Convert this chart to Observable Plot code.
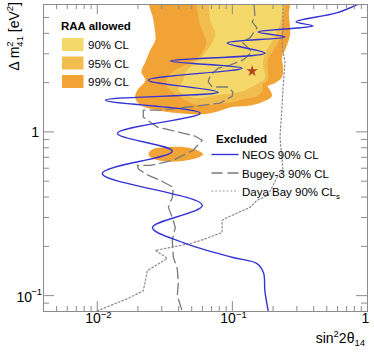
<!DOCTYPE html>
<html>
<head>
<meta charset="utf-8">
<script src="https://cdn.jsdelivr.net/npm/d3@7"></script>
<script src="https://cdn.jsdelivr.net/npm/@observablehq/plot@0.6"></script>
<style>
html,body{margin:0;padding:0;background:#fff;}
#chart{width:374px;height:354px;}
</style>
</head>
<body>
<div id="chart"></div>
<script>
// ---- Data ----
// RAA allowed region, 99% CL (main contour)
const raa99X = [0.0247, 0.0260, 0.0269, 0.0247, 0.0227, 0.0212, 0.0227, 0.0198, 0.0191, 0.0208, 0.0269, 0.0411, 0.0578, 0.0745, 0.0995, 0.128, 0.166, 0.196, 0.190, 0.183, 0.207, 0.233, 0.237, 0.233, 0.249, 0.267, 0.262, 0.258];
const raa99Y = [6.6, 4.83, 3.64, 3.17, 2.67, 2.32, 2.07, 1.80, 1.61, 1.46, 1.36, 1.30, 1.28, 1.32, 1.42, 1.44, 1.52, 1.65, 1.80, 1.90, 1.99, 2.16, 2.49, 2.87, 3.26, 3.91, 5.18, 6.6];
// RAA allowed, 99% CL (small island)
const raa99bX = [0.0239, 0.0256, 0.0319, 0.0448, 0.0550, 0.0608, 0.0540, 0.0411, 0.0308, 0.0256];
const raa99bY = [0.730, 0.783, 0.806, 0.806, 0.773, 0.730, 0.690, 0.662, 0.662, 0.690];
// RAA allowed, 95% CL
const raa95X = [0.0560, 0.0560, 0.0587, 0.0640, 0.0578, 0.0448, 0.0359, 0.0324, 0.0336, 0.0411, 0.0550, 0.0914, 0.124, 0.152, 0.168, 0.168, 0.183, 0.183, 0.203, 0.225, 0.237, 0.233];
const raa95Y = [6.6, 5.04, 4.32, 3.49, 2.95, 2.56, 2.32, 2.07, 1.85, 1.63, 1.46, 1.50, 1.59, 1.65, 1.80, 1.96, 2.07, 2.75, 3.17, 3.75, 4.70, 6.6];
// RAA allowed, 90% CL
const raa90X = [0.0708, 0.0685, 0.0745, 0.0708, 0.0608, 0.0531, 0.0463, 0.0432, 0.0398, 0.0448, 0.0550, 0.0785, 0.114, 0.152, 0.174, 0.168, 0.180, 0.200, 0.221, 0.225];
const raa90Y = [6.6, 4.83, 4.02, 3.49, 2.95, 2.64, 2.39, 2.07, 1.80, 1.68, 1.61, 1.68, 1.75, 1.96, 2.13, 2.64, 3.17, 3.64, 4.32, 6.6];
// RAA best fit
const bestX = [0.140];
const bestY = [2.35];

// NEOS 90% CL exclusion contour
const neosX = [0.84, 0.591, 0.296, 0.395, 0.155, 0.245, 0.0914, 0.174, 0.0348, 0.118, 0.0239, 0.0786, 0.0115, 0.0578, 0.0141, 0.0359, 0.0109, 0.0598, 0.0256, 0.0432, 0.101, 0.152, 0.170, 0.174, 0.184];
const neosY = [6.0, 5.33, 4.70, 4.44, 4.08, 3.80, 3.49, 3.03, 2.71, 2.45, 2.07, 1.75, 1.56, 1.30, 0.98, 0.762, 0.558, 0.356, 0.261, 0.211, 0.171, 0.157, 0.138, 0.107, 0.081];
// Bugey-3 90% CL
const bugeyX = [0.1445, 0.147, 0.140, 0.152, 0.135, 0.118, 0.140, 0.120, 0.0961, 0.0785, 0.0685, 0.0662, 0.0709, 0.0929, 0.101, 0.0995, 0.0812, 0.0550, 0.0303, 0.0219, 0.0219, 0.0279, 0.0378, 0.0531, 0.0598, 0.0513, 0.0366, 0.0247, 0.0198, 0.0202, 0.0239, 0.0293, 0.0366, 0.0359, 0.0336, 0.0359, 0.0378, 0.0359, 0.0366, 0.0391, 0.0398, 0.0391, 0.0426];
const bugeyY = [6.0, 5.04, 4.70, 4.32, 3.75, 3.54, 3.08, 2.75, 2.56, 2.45, 2.22, 2.02, 1.88, 1.88, 1.75, 1.65, 1.50, 1.44, 1.36, 1.36, 1.23, 1.07, 1.01, 0.941, 0.889, 0.773, 0.671, 0.625, 0.625, 0.591, 0.543, 0.506, 0.458, 0.398, 0.346, 0.300, 0.261, 0.217, 0.171, 0.146, 0.120, 0.100, 0.080];
// Daya Bay 90% CLs
const dayaX = [0.237, 0.237, 0.233, 0.245, 0.237, 0.233, 0.225, 0.237, 0.214, 0.183, 0.152, 0.135, 0.0914, 0.0839, 0.0839, 0.0578, 0.0488, 0.0269, 0.0330, 0.0235, 0.0219, 0.0167, 0.0100];
const dayaY = [6.0, 4.50, 3.40, 2.67, 1.85, 1.42, 0.928, 0.582, 0.527, 0.409, 0.382, 0.346, 0.300, 0.288, 0.243, 0.217, 0.208, 0.189, 0.169, 0.142, 0.107, 0.0958, 0.0807];

// Axis ticks
const xMajorTicks = [0.01, 0.1];
const xMinorTicks = [0.005,0.006,0.007,0.008,0.009,0.02,0.03,0.04,0.05,0.06,0.07,0.08,0.09,0.2,0.3,0.4,0.5,0.6,0.7,0.8,0.9];
const yMajorTicks = [0.1, 1];
const yMinorTicks = [0.09,0.2,0.3,0.4,0.5,0.6,0.7,0.8,0.9,2,3,4,5];
const xPowTicks = [0.01, 0.1];
const xPowLabels = ["\u22122", "\u22121"];
const xPlainTicks = [1];
const xPlainLabels = ["1"];
const yPowTicks = [0.1];
const yPowLabels = ["\u22121"];
const yPlainTicks = [1];
const yPlainLabels = ["1"];

// Legend labels
const raaTitle = "RAA allowed";
const raaLabels = ["90% CL", "95% CL", "99% CL"];
const exclTitle = "Excluded";
const exclLabels = ["NEOS 90% CL", "Bugey-3 90% CL", "Daya Bay 90% CL"];

// ---- Styling ----
const FONT = "'Liberation Sans', Arial, Helvetica, sans-serif";
const C90 = "#f4d96a", C95 = "#f2bd4f", C99 = "#f1a336";
const NEOS = "#3434d4", BUGEY = "#7a7a7a", DAYA = "#8a8a8a";
const AX = "#8c8c8c";
const W = 374, H = 354, mL = 43, mR = 7, mT = 4, mB = 43;
const fW = W - mL - mR, fH = H - mT - mB;

const pts = (xs, ys) => xs.map((x, i) => ({x, y: ys[i]}));

const svg = Plot.plot({
  width: W, height: H,
  marginLeft: mL, marginRight: mR, marginTop: mT, marginBottom: mB,
  x: {type: "log", domain: [0.004, 1], axis: null},
  y: {type: "log", domain: [0.08, 6], axis: null},
  style: {fontFamily: FONT, fontSize: "14px", background: "#fff", overflow: "visible"},
  marks: [
    Plot.line(pts(raa99X, raa99Y), {x: "x", y: "y", fill: C99, stroke: "none", curve: "catmull-rom-closed", clip: true}),
    Plot.line(pts(raa99bX, raa99bY), {x: "x", y: "y", fill: C99, stroke: "none", curve: "catmull-rom-closed", clip: true}),
    Plot.line(pts(raa95X, raa95Y), {x: "x", y: "y", fill: C95, stroke: "none", curve: "catmull-rom-closed", clip: true}),
    Plot.line(pts(raa90X, raa90Y), {x: "x", y: "y", fill: C90, stroke: "none", curve: "catmull-rom-closed", clip: true}),
    Plot.dot(pts(bestX, bestY), {x: "x", y: "y", symbol: "star", fill: "#b4441c", stroke: "none", r: 3.6}),
    Plot.line(pts(dayaX, dayaY), {x: "x", y: "y", stroke: DAYA, strokeWidth: 1.2, strokeDasharray: "1.6,2.2", clip: true}),
    Plot.line(pts(bugeyX, bugeyY), {x: "x", y: "y", stroke: BUGEY, strokeWidth: 1.3, strokeDasharray: "11,5", clip: true}),
    Plot.line(pts(neosX, neosY), {x: "x", y: "y", stroke: NEOS, strokeWidth: 1.4, curve: "catmull-rom", clip: true}),
    // ticks (ROOT style, inside the frame)
    Plot.tickX(xMinorTicks, {x: d => d, insetTop: fH - 5, stroke: AX}),
    Plot.tickX(xMinorTicks, {x: d => d, insetBottom: fH - 5, stroke: AX}),
    Plot.tickX(xMajorTicks, {x: d => d, insetTop: fH - 10, stroke: AX}),
    Plot.tickX(xMajorTicks, {x: d => d, insetBottom: fH - 10, stroke: AX}),
    Plot.tickY(yMinorTicks, {y: d => d, insetRight: fW - 6, stroke: AX}),
    Plot.tickY(yMinorTicks, {y: d => d, insetLeft: fW - 6, stroke: AX}),
    Plot.tickY(yMajorTicks, {y: d => d, insetRight: fW - 11, stroke: AX}),
    Plot.tickY(yMajorTicks, {y: d => d, insetLeft: fW - 11, stroke: AX}),
    Plot.frame({stroke: AX}),
    // tick labels
    Plot.text(xPowTicks, {x: d => d, text: () => "10", frameAnchor: "bottom", textAnchor: "end", dx: 3.5, dy: 11, fontSize: 14, fill: "#000"}),
    Plot.text(xPowTicks, {x: d => d, text: (d, i) => xPowLabels[i], frameAnchor: "bottom", textAnchor: "start", dx: 3.5, dy: 6.5, fontSize: 9.5, fill: "#000"}),
    Plot.text(xPlainTicks, {x: d => d, text: (d, i) => xPlainLabels[i], frameAnchor: "bottom", textAnchor: "middle", dx: -2, dy: 11, fontSize: 14, fill: "#000"}),
    Plot.text(yPowTicks, {y: d => d, text: () => "10", frameAnchor: "left", textAnchor: "end", dx: -11.5, dy: 2, fontSize: 14, fill: "#000"}),
    Plot.text(yPowTicks, {y: d => d, text: (d, i) => yPowLabels[i], frameAnchor: "left", textAnchor: "end", dx: -1.5, dy: -4, fontSize: 9.5, fill: "#000"}),
    Plot.text(yPlainTicks, {y: d => d, text: (d, i) => yPlainLabels[i], frameAnchor: "left", textAnchor: "end", dx: -4.5, dy: 0.5, fontSize: 14, fill: "#000"})
  ]
});

// ---- Titles and legends ----
const g = d3.select(svg).append("g").attr("font-family", FONT).attr("fill", "#000").attr("text-anchor", "start");

// x title: sin^2 2θ_14
const xt = g.append("text").attr("x", 365).attr("y", 343).attr("text-anchor", "end").attr("font-size", 14);
xt.append("tspan").text("sin");
xt.append("tspan").attr("font-size", 9.5).attr("dy", -6).text("2");
xt.append("tspan").attr("dy", 6).text("2\u03b8");
xt.append("tspan").attr("font-size", 9.5).attr("dy", 3).text("14");

// y title: Δm^2_41 [eV^2]
const yt = g.append("text").attr("transform", "translate(19,2) rotate(-90)").attr("text-anchor", "end").attr("font-size", 14);
yt.append("tspan").text("\u0394 m");
yt.append("tspan").attr("font-size", 9.5).attr("dy", -6).text("2");
yt.append("tspan").attr("font-size", 9.5).attr("dx", -5.3).attr("dy", 9.5).text("41");
yt.append("tspan").attr("dy", -3.5).text(" [eV");
yt.append("tspan").attr("font-size", 9.5).attr("dy", -6).text("2");
yt.append("tspan").attr("dy", 6).text("]");

// RAA legend
g.append("text").attr("x", 61).attr("y", 30).attr("font-size", 11.5).attr("font-weight", "bold").attr("text-anchor", "start").text(raaTitle);
const raaCols = [C90, C95, C99];
const raaRows = [38, 56.5, 75];
raaLabels.forEach((lab, i) => {
  g.append("rect").attr("x", 62).attr("y", raaRows[i]).attr("width", 21.5).attr("height", 13).attr("fill", raaCols[i]);
  g.append("text").attr("x", 88).attr("y", raaRows[i] + 11).attr("font-size", 11.5).attr("text-anchor", "start").text(lab);
});

// Excluded legend
g.append("text").attr("x", 216).attr("y", 143).attr("font-size", 11.5).attr("font-weight", "bold").attr("text-anchor", "start").text(exclTitle);
const exRows = [154.5, 173, 191];
const exStyles = [
  {stroke: NEOS, w: 1.4, dash: null},
  {stroke: BUGEY, w: 1.3, dash: "11,5"},
  {stroke: DAYA, w: 1.2, dash: "1.6,2.2"}
];
exclLabels.forEach((lab, i) => {
  const s = exStyles[i];
  const ln = g.append("line").attr("x1", 211.5).attr("x2", 238.5).attr("y1", exRows[i]).attr("y2", exRows[i])
    .attr("stroke", s.stroke).attr("stroke-width", s.w);
  if (s.dash) ln.attr("stroke-dasharray", s.dash);
  const t = g.append("text").attr("x", 242).attr("y", exRows[i] + 4.5).attr("font-size", 11.5).attr("text-anchor", "start").text(lab);
  if (i === 2) t.append("tspan").attr("font-size", 8).attr("dy", 3).text("s");
});

document.getElementById("chart").appendChild(svg);
</script>
</body>
</html>
